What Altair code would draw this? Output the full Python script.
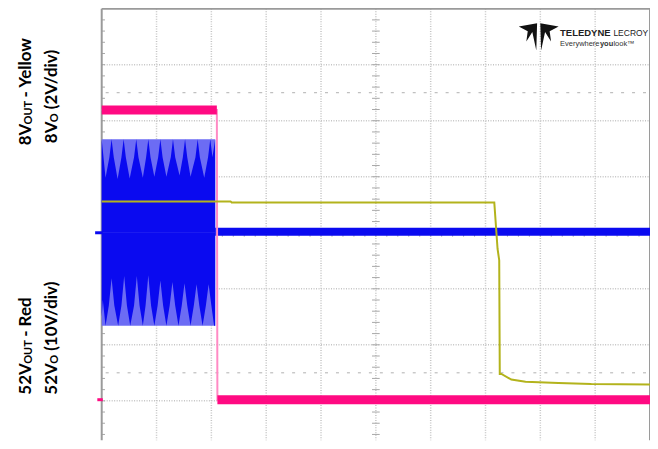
import altair as alt
import pandas as pd

# ---------------- data (time and level in scope divisions) ----------------
# 52 V output (red / pink trace)
red_t = [0.0, 2.10, 2.11, 10.0]
red_v = [2.19, 2.19, -2.98, -2.98]
red_seg = ["on", "on", "off", "off"]

# 8 V output (yellow trace)
yel_t = [0.0, 2.35, 2.37, 7.16, 7.22, 7.25, 7.26, 7.29, 7.47, 7.73, 8.33, 8.93, 10.0]
yel_v = [0.56, 0.56, 0.54, 0.54, -0.29, -0.49, -2.52, -2.52, -2.62, -2.66, -2.68, -2.70, -2.71]

# switching node (blue trace): envelope while running, then flat
blue_env_t = [0.0, 2.07]
blue_env_hi = [1.67, 1.67]
blue_env_lo = [-1.66, -1.66]
blue_top_t = [0.0, 0.07, 0.14, 0.18, 0.22, 0.29, 0.36, 0.40, 0.44, 0.51, 0.59, 0.63, 0.67,
              0.75, 0.81, 0.85, 0.89, 0.96, 1.03, 1.07, 1.11, 1.18, 1.26, 1.30, 1.34, 1.42,
              1.48, 1.52, 1.56, 1.62, 1.71, 1.75, 1.79, 1.87, 1.94, 1.98, 2.02, 2.07]
blue_top_v = [1.67, 0.98, 1.35, 1.67, 1.35, 0.96, 1.35, 1.67, 1.35, 0.97, 1.35, 1.67, 1.35,
              0.98, 1.35, 1.67, 1.35, 1.00, 1.35, 1.67, 1.35, 1.00, 1.35, 1.67, 1.35, 1.02,
              1.35, 1.67, 1.35, 1.00, 1.35, 1.67, 1.35, 0.98, 1.35, 1.67, 1.35, 1.67]
blue_bot_t = [0.0, 0.02, 0.07, 0.13, 0.18, 0.23, 0.30, 0.36, 0.41, 0.46, 0.52, 0.59, 0.64,
              0.69, 0.75, 0.80, 0.85, 0.90, 0.96, 1.02, 1.07, 1.12, 1.18, 1.24, 1.29, 1.34,
              1.40, 1.46, 1.51, 1.56, 1.62, 1.68, 1.73, 1.78, 1.84, 1.90, 1.95, 2.00, 2.05, 2.07]
blue_bot_v = [-1.50, -1.20, -1.66, -1.30, -0.81, -1.30, -1.66, -1.30, -0.77, -1.30, -1.66, -1.30, -0.77,
              -1.30, -1.66, -1.30, -0.76, -1.30, -1.66, -1.30, -0.85, -1.30, -1.66, -1.30, -0.88, -1.30,
              -1.66, -1.30, -0.90, -1.30, -1.66, -1.30, -0.92, -1.30, -1.66, -1.30, -0.92, -1.30, -1.66, -1.66]
blue_flat_t = [2.07, 10.0]
blue_flat_v = [0.02, 0.02]

# graticule
grid_x = [1, 2, 3, 4, 5, 6, 7, 8, 9]
grid_y = [-3, -2, -1, 0, 1, 2, 3]
minor_y = [round(-3.6 + 0.2 * i, 2) for i in range(38)]
minor_x = [round(0.2 * i, 2) for i in range(51)]

# ---------------- styling ----------------
PINK = "#ff0a82"
PINK_LIGHT = "#ff8ac4"
BLUE = "#0a0af0"
BLUE_LIGHT = "#6c6cf4"
YELLOW = "#b3b31c"
GRID = "#c4c4c4"
BORDER = "#9a9a9a"
LABEL_FONT = "Lato"
LOGO_FONT = "Liberation Sans"

XS = alt.Scale(domain=[0, 10])
YS = alt.Scale(domain=[-3.705, 4])


def X(f="t"):
    return alt.X(f"{f}:Q", scale=XS, axis=None)


def Y(f="v"):
    return alt.Y(f"{f}:Q", scale=YS, axis=None)


layers = []

# grid lines
layers.append(alt.Chart(pd.DataFrame({"t": grid_x})).mark_rule(
    color=GRID, strokeWidth=1.5, strokeDash=[1, 1.5]).encode(x=X(), y=alt.value(0), y2=alt.value(433)))
layers.append(alt.Chart(pd.DataFrame({"v": grid_y})).mark_rule(
    color=GRID, strokeWidth=1.5, strokeDash=[1, 1.5]).encode(y=Y(), x=alt.value(0), x2=alt.value(550)))
# dashed minor-tick rows at +/-2.5 div
layers.append(alt.Chart(pd.DataFrame({"v": [2.5, -2.5], "t": [0, 0], "t2": [10, 10]})).mark_rule(
    color="#b0b0b0", strokeWidth=1, strokeDash=[3, 8], strokeDashOffset=-4).encode(
    y=Y(), x=X(), x2="t2:Q"))
# minor ticks on centre lines and left border
layers.append(alt.Chart(pd.DataFrame({"v": minor_y, "a": [4.93] * len(minor_y), "b": [5.07] * len(minor_y)})).mark_rule(
    color="#a8a8a8", strokeWidth=1).encode(y=Y(), x=X("a"), x2="b:Q"))
layers.append(alt.Chart(pd.DataFrame({"v": minor_y, "a": [0.0] * len(minor_y), "b": [0.06] * len(minor_y)})).mark_rule(
    color="#a8a8a8", strokeWidth=1).encode(y=Y(), x=X("a"), x2="b:Q"))
layers.append(alt.Chart(pd.DataFrame({"t": minor_x, "a": [-0.07] * len(minor_x), "b": [0.07] * len(minor_x)})).mark_rule(
    color="#a8a8a8", strokeWidth=1).encode(x=X(), y=Y("a"), y2="b:Q"))
# borders
layers.append(alt.Chart(pd.DataFrame({"t": [0, 10]})).mark_rule(
    color=BORDER, strokeWidth=2).encode(x=X(), y=alt.value(0), y2=alt.value(433)))
layers.append(alt.Chart(pd.DataFrame({"v": [4]})).mark_rule(
    color=BORDER, strokeWidth=2).encode(y=Y(), x=alt.value(0), x2=alt.value(550)))

# blue trace
layers.append(alt.Chart(pd.DataFrame({"t": blue_env_t, "v": blue_env_hi, "w": blue_env_lo})).mark_area(
    color=BLUE_LIGHT, opacity=1).encode(x=X(), y=Y(), y2="w:Q"))
layers.append(alt.Chart(pd.DataFrame({"t": blue_top_t, "v": blue_top_v})).mark_area(
    color=BLUE, opacity=1).encode(x=X(), y=Y(), y2=alt.datum(0)))
layers.append(alt.Chart(pd.DataFrame({"t": blue_bot_t, "v": blue_bot_v})).mark_area(
    color=BLUE, opacity=1).encode(x=X(), y=Y(), y2=alt.datum(0)))
layers.append(alt.Chart(pd.DataFrame({"t": blue_flat_t, "v": blue_flat_v})).mark_line(
    color=BLUE, strokeWidth=8, strokeCap="butt").encode(x=X(), y=Y()))

# pink trace
red_df = pd.DataFrame({"t": red_t, "v": red_v, "seg": red_seg})
layers.append(alt.Chart(red_df).mark_line(color=PINK_LIGHT, strokeWidth=2).encode(x=X(), y=Y()))
layers.append(alt.Chart(red_df).mark_line(color=PINK, strokeWidth=9, strokeCap="butt").encode(
    x=X(), y=Y(), detail="seg:N"))

# yellow trace
layers.append(alt.Chart(pd.DataFrame({"t": yel_t, "v": yel_v})).mark_line(
    color=YELLOW, strokeWidth=2).encode(x=X(), y=Y()))

# channel offset markers
layers.append(alt.Chart(pd.DataFrame({"t": [-0.12], "t2": [0.02], "v": [0.0]})).mark_rule(
    color=BLUE, strokeWidth=3).encode(x=X(), x2="t2:Q", y=Y()))
layers.append(alt.Chart(pd.DataFrame({"t": [-0.08], "t2": [0.02], "v": [-2.98]})).mark_rule(
    color=PINK, strokeWidth=3).encode(x=X(), x2="t2:Q", y=Y()))
layers.append(alt.Chart(pd.DataFrame({"t": [9.9], "v": [-2.98]})).mark_point(
    shape="triangle-left", filled=True, size=70, color=PINK, opacity=1).encode(x=X(), y=Y()))


def txt(s, t, v, size, dx=0, dy=0, weight="bold", angle=270, font=LABEL_FONT, color="#000000"):
    kw = dict(text=s, fontSize=size, dx=dx, dy=dy, fontWeight=weight, angle=angle, font=font,
              color=color, align="left", baseline="alphabetic")
    return alt.Chart(pd.DataFrame({"t": [t], "v": [v]})).mark_text(**kw).encode(x=X(), y=Y())


# rotated axis labels
L1, L2 = -1.29, -0.82
G1a, G1b, G2 = 1.56, 1.60, -2.89
layers += [
    txt("8V", L1, G1a, 17),
    txt("OUT", L1, G1a, 11, dx=21, dy=1),
    txt("- Yellow", L1, G1a, 17, dx=48),
    txt("8V", L2, G1b, 17),
    txt("O", L2, G1b, 11, dx=21, dy=1),
    txt("(2V/div)", L2, G1b, 17, dx=34),
    txt("52V", L1, G2, 17),
    txt("OUT", L1, G2, 11, dx=31, dy=1),
    txt("- Red", L1, G2, 17, dx=58),
    txt("52V", L2, G2, 17),
    txt("O", L2, G2, 11, dx=31, dy=1),
    txt("(10V/div)", L2, G2, 17, dx=44),
]

# logo
LOGO_PATH = ("M-1,-0.45 L-0.08,-0.62 L-0.12,0.75 L-0.32,-0.18 L-0.62,0.3 L-0.55,-0.22 Z "
             "M1,-0.45 L0.08,-0.62 L0.12,0.75 L0.32,-0.18 L0.62,0.3 L0.55,-0.22 Z")
layers.append(alt.Chart(pd.DataFrame({"t": [7.97], "v": [3.52]})).mark_point(
    shape=LOGO_PATH, filled=True, size=1600, color="#111111", opacity=1).encode(x=X(), y=Y()))
layers += [
    txt("TELEDYNE", 8.36, 3.52, 9.5, angle=0, font=LOGO_FONT, color="#222222"),
    txt("LECROY", 8.36, 3.52, 8.5, dx=53.5, weight="normal", angle=0, font=LOGO_FONT, color="#222222"),
    txt("Everywhere", 8.36, 3.34, 7.5, weight="normal", angle=0, font=LOGO_FONT, color="#333333"),
    txt("you", 8.36, 3.34, 7.5, dx=40, weight="bold", angle=0, font=LOGO_FONT, color="#333333"),
    txt("look\u2122", 8.36, 3.34, 7.5, dx=53.5, weight="normal", angle=0, font=LOGO_FONT, color="#333333"),
]

chart = alt.layer(*layers).properties(
    width=550, height=433,
    padding={"left": 94, "top": 0, "right": 0, "bottom": 0},
    autosize="none",
).configure_view(stroke=None)

chart.save("out.html", embed_options={"renderer": "svg", "actions": False})
